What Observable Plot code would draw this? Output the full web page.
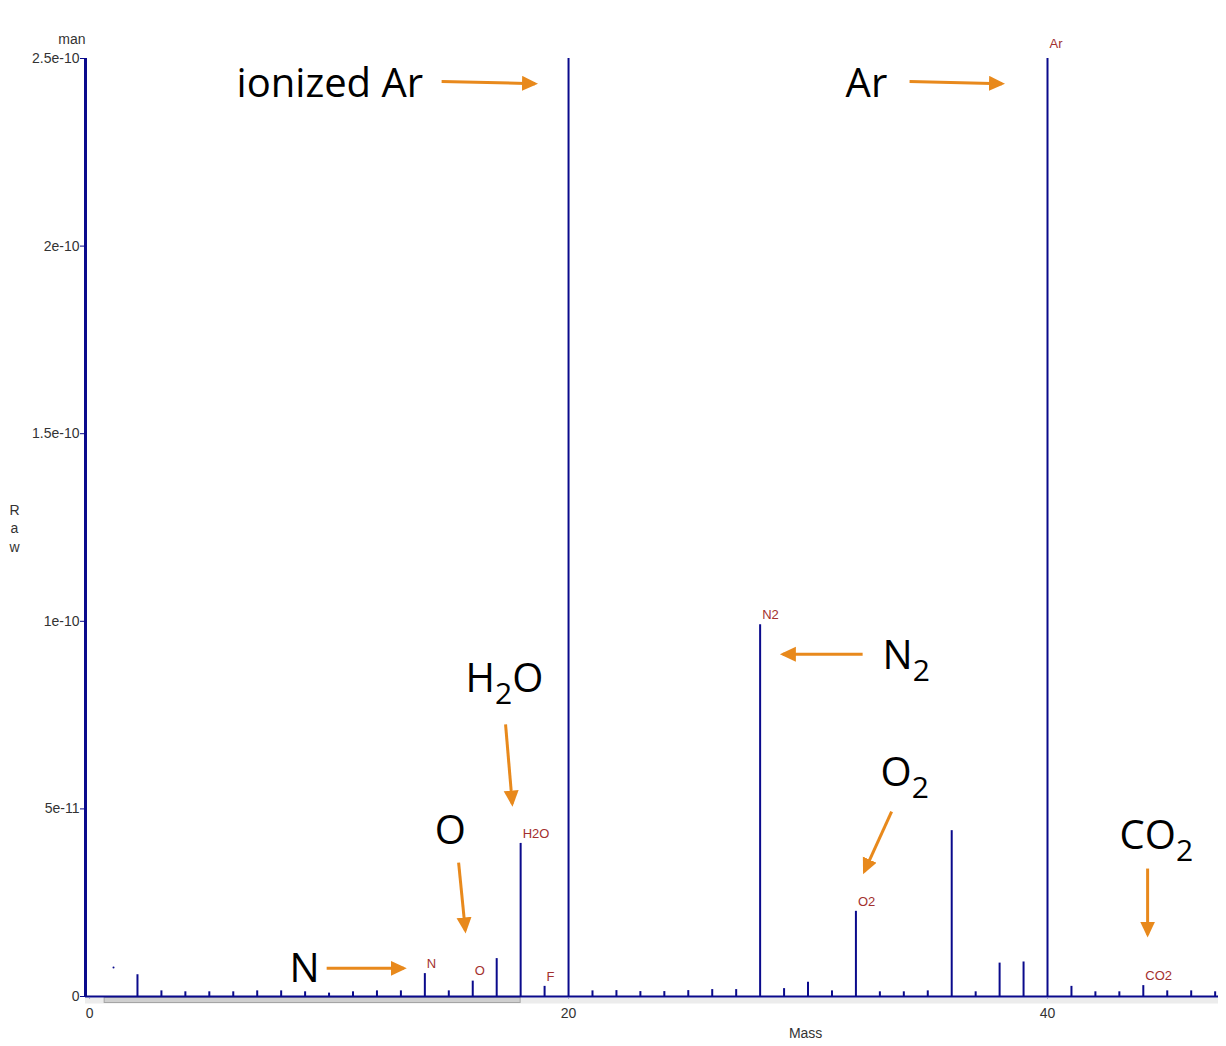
<!DOCTYPE html>
<html><head><meta charset="utf-8">
<script src="https://cdn.jsdelivr.net/npm/d3@7"></script>
<script src="https://cdn.jsdelivr.net/npm/@observablehq/plot@0.6"></script>
<style>
body{margin:0;background:#fff;}
#chart{position:absolute;left:0;top:0;}
</style></head><body><div id="chart"></div>
<script>
// ---- data ----
const masses = [2,3,4,5,6,7,8,9,10,11,12,13,14,15,16,17,18,19,20,21,22,23,24,25,26,27,28,29,30,31,32,33,34,35,36,37,38,39,40,41,42,43,44,45,46,47];
const rawPico = [5.8,1.5,1.25,1.25,1.25,1.5,1.5,1.25,0.9,1.25,1.5,1.5,6.1,1.5,4.1,10.1,40.8,2.7,250,1.5,1.57,1.31,1.31,1.57,1.84,1.84,99.1,2.1,3.8,1.5,22.7,1.25,1.25,1.5,44.2,1.25,8.9,9.2,250,2.7,1.25,1.25,2.9,1.5,1.5,1.25];
const strayMass = [1];
const strayPico = [7.7];
const peakMasses = [14,16,18,19,28,32,40,44];
const peakNames = ["N","O","H2O","F","N2","O2","Ar","CO2"];
const annoTexts = ["ionized Ar","Ar","N_2","H_2O","O","O_2","CO_2","N"];
const annoMass = [6.14,31.57,33.11,15.70,14.41,33.03,43.01,8.35];
const annoPico = [243.1,243.1,90.6,84.5,44.0,59.4,42.6,7.2];
const arrowFromMass = [14.70,34.24,32.28,17.37,15.41,33.49,44.18,9.90];
const arrowFromPico = [243.9,243.9,91.2,72.5,35.7,49.3,34.1,7.5];
const arrowToMass = [18.60,38.10,28.95,17.65,15.69,32.35,44.18,13.12];
const arrowToPico = [243.3,243.3,91.2,51.4,17.6,33.3,16.5,7.5];
const yTicks = [0,5e-11,1e-10,1.5e-10,2e-10,2.5e-10];
const yTickLabels = ["0","5e-11","1e-10","1.5e-10","2e-10","2.5e-10"];
const xTicks = [0,20,40];
const xDomain = [-0.17,47.14];
const yDomain = [0,2.5e-10];
const scrollRange = [0.63,18.0];
const massLabelPos = [29.9];

// ---- derived tables ----
const P = 1e-12;
const bars = masses.map((m,i)=>({mass:m, value:rawPico[i]*P}));
const stray = strayMass.map((m,i)=>({mass:m, value:strayPico[i]*P}));
const valueOf = m => bars.find(b=>b.mass===m).value;
const peaks = peakMasses.map((m,i)=>({mass:m, name:peakNames[i], value:Math.min(valueOf(m), yDomain[1])}));
const annos = annoTexts.map((t,i)=>({text:t, mass:annoMass[i], value:annoPico[i]*P}));
const arrows = arrowFromMass.map((m,i)=>({x1:m, y1:arrowFromPico[i]*P, x2:arrowToMass[i], y2:arrowToPico[i]*P}));

const navy = "#0a0a8c";
const orange = "#E8891C";
const labelRed = "#a3302e";

const plot = Plot.plot({
  width: 1226, height: 1046,
  marginLeft: 85, marginRight: 8, marginTop: 58, marginBottom: 50,
  x: {domain: xDomain},
  y: {domain: yDomain},
  style: {fontFamily: "'Liberation Sans', Arial, sans-serif", fontSize: "14px", background: "#fff", overflow: "visible", color: "#333"},
  marks: [
    Plot.axisY({ticks: yTicks, tickFormat: d => yTickLabels[yTicks.indexOf(d)], tickSize: 5, tickPadding: 1, label: null, fontSize: 14}),
    Plot.axisX({ticks: xTicks, tickFormat: d => String(d), tickSize: 4, tickPadding: 8, label: null, fontSize: 14}),
    Plot.ruleX(bars, {x: "mass", y1: 0, y2: "value", stroke: navy, strokeWidth: 2}),
    Plot.dot(stray, {x: "mass", y: "value", r: 1, fill: navy, stroke: null}),
    Plot.ruleY([0], {stroke: navy, strokeWidth: 2}),
    Plot.ruleX([xDomain[0]], {stroke: navy, strokeWidth: 3}),
    Plot.text(peaks.filter(d=>d.name!=="Ar"), {x: "mass", y: "value", text: "name", textAnchor: "start", dx: 2, dy: -10, fill: labelRed, fontSize: 13}),
    Plot.text(peaks.filter(d=>d.name==="Ar"), {x: "mass", y: "value", text: "name", textAnchor: "start", dx: 2, dy: -15, fill: labelRed, fontSize: 13}),
    Plot.link(arrows, {x1: "x1", y1: "y1", x2: "x2", y2: "y2", stroke: orange, strokeWidth: 3}),
    Plot.text(annos, {x: "mass", y: "value", text: "text", textAnchor: "start", lineAnchor: "middle", fontSize: 40, fontFamily: "'Open Sans', 'Noto Sans', sans-serif", fill: "#000"}),
    Plot.text(["man"], {text: d=>d, frameAnchor: "top-left", textAnchor: "end", lineAnchor: "middle", dy: -19, fill: "#333", fontSize: 14}),
    Plot.text(["R\na\nw"], {text: d=>d, frameAnchor: "left", textAnchor: "middle", dx: -71, lineHeight: 1.3, fill: "#333", fontSize: 14}),
    Plot.text(["Mass"], {x: massLabelPos, text: d=>d, frameAnchor: "bottom", dy: 41, fill: "#333", fontSize: 14})
  ]
});

const svg = plot.tagName.toLowerCase() === "svg" ? plot : plot.querySelector("svg");
const NS = "http://www.w3.org/2000/svg";

// tick colors
svg.querySelectorAll('g[aria-label="y-axis tick"]').forEach(g => g.setAttribute("stroke", navy));
svg.querySelectorAll('g[aria-label="x-axis tick"]').forEach(g => {g.setAttribute("stroke", "#a9a6d6"); g.setAttribute("stroke-dasharray", "1,1");});

// arrow heads
const defs = document.createElementNS(NS, "defs");
const marker = document.createElementNS(NS, "marker");
marker.setAttribute("id", "ahead");
marker.setAttribute("markerUnits", "userSpaceOnUse");
marker.setAttribute("markerWidth", "17");
marker.setAttribute("markerHeight", "16");
marker.setAttribute("refX", "13");
marker.setAttribute("refY", "7.5");
marker.setAttribute("orient", "auto");
marker.setAttribute("viewBox", "0 0 17 16");
const mp = document.createElementNS(NS, "path");
mp.setAttribute("d", "M0,0 L16,7.5 L0,15 Z");
mp.setAttribute("fill", orange);
mp.setAttribute("stroke", "none");
marker.appendChild(mp);
defs.appendChild(marker);
svg.insertBefore(defs, svg.firstChild);
svg.querySelectorAll('g[aria-label="link"] path').forEach(p => p.setAttribute("marker-end", "url(#ahead)"));

// subscripts
svg.querySelectorAll('text').forEach(t => {
  const s = t.textContent;
  if (!s.includes("_")) return;
  const [a, b] = s.split("_");
  while (t.firstChild) t.removeChild(t.firstChild);
  const t0 = document.createElementNS(NS, "tspan"); t0.textContent = a; t.appendChild(t0);
  const t1 = document.createElementNS(NS, "tspan"); t1.textContent = b[0];
  t1.setAttribute("font-size", "30"); t1.setAttribute("dy", "12"); t.appendChild(t1);
  if (b.length > 1) {
    const t2 = document.createElementNS(NS, "tspan"); t2.textContent = b.slice(1);
    t2.setAttribute("dy", "-12"); t.appendChild(t2);
  }
});

// scroll band decoration under the axis
const xs = plot.scale("x");
const band = document.createElementNS(NS, "rect");
band.setAttribute("x", xs.apply(xDomain[0])); band.setAttribute("width", xs.apply(xDomain[1]) - xs.apply(xDomain[0]));
band.setAttribute("y", 997.5); band.setAttribute("height", 6); band.setAttribute("fill", "#ececec");
const bar = document.createElementNS(NS, "rect");
bar.setAttribute("x", xs.apply(scrollRange[0])); bar.setAttribute("width", xs.apply(scrollRange[1]) - xs.apply(scrollRange[0]));
bar.setAttribute("y", 997.5); bar.setAttribute("height", 5); bar.setAttribute("fill", "#cfcfcf"); bar.setAttribute("stroke", "#a5a5a5"); bar.setAttribute("stroke-width", 1);
svg.insertBefore(bar, defs.nextSibling);
svg.insertBefore(band, defs.nextSibling);

document.getElementById("chart").appendChild(plot);
</script>
</body></html>
